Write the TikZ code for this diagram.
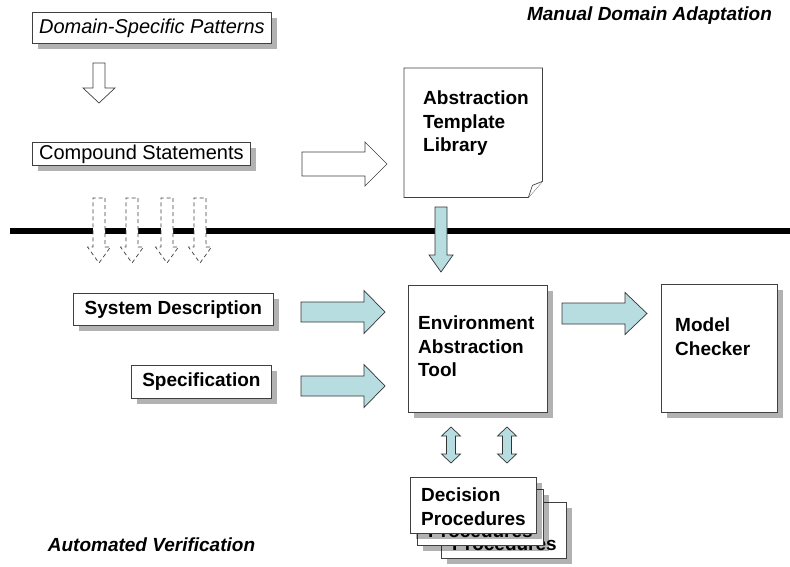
\documentclass[tikz,border=0pt]{standalone}
\usepackage{fontspec}
\setmainfont{Liberation Sans}
\usetikzlibrary{calc,shadows}

\definecolor{arrowblue}{RGB}{183,221,224}

\tikzset{
  box/.style={draw=black!75, line width=0.8pt, fill=white, anchor=north west, inner sep=2pt,
    general shadow={fill=black, fill opacity=0.3, shadow xshift=6pt, shadow yshift=-6pt}},
  plaintxt/.style={font=\fontsize{20}{24}\selectfont},
  boldtxt/.style={font=\fontsize{19}{23.5}\selectfont\bfseries},
  inbox/.style={boldtxt, inner sep=0pt, anchor=north west, align=left},
  hollow/.style={draw=black!75, line width=0.7pt, fill=white},
  hollowdash/.style={hollow, dash pattern=on 4pt off 3pt},
  bluearrow/.style={draw=black!80, line width=0.7pt, fill=arrowblue}
}

% block arrow: style, start, angle, length, shaft half, head half, head length
\newcommand{\blkarrow}[7]{%
  \draw[#1, shift={(#2)}, rotate=#3] (0,-#5) -- ({#4-#7},-#5) -- ({#4-#7},-#6) -- (#4,0)
    -- ({#4-#7},#6) -- ({#4-#7},#5) -- (0,#5) -- cycle;}

% up/down block arrow around a centre point
\newcommand{\dblarrow}[1]{%
  \draw[bluearrow, shift={(#1)}] (0,-18) -- (9.5,-9) -- (4.5,-9) -- (4.5,9) -- (9.5,9) -- (0,18)
    -- (-9.5,9) -- (-4.5,9) -- (-4.5,-9) -- (-9.5,-9) -- cycle;}

\begin{document}
\begin{tikzpicture}[x=1pt, y=-1pt]
  \useasboundingbox (0,0) rectangle (790,567);

  % Captions
  \node[font=\fontsize{19}{23.5}\selectfont\bfseries\itshape] (manual) at (649.5,16) {Manual Domain Adaptation};
  \node[font=\fontsize{19}{23.5}\selectfont\bfseries\itshape] (auto) at (151.5,545) {Automated Verification};

  % Separator
  \draw[line width=5.5pt] (10,231) -- (790,231);

  % Upper part
  \node[box, font=\fontsize{20}{24}\selectfont\itshape, minimum width=239pt, minimum height=31pt] (dsp) at (32,12) {Domain-Specific Patterns};
  \node[box, plaintxt, minimum width=218pt, minimum height=23pt] (cmp) at (32,142) {Compound Statements};

  \node[minimum width=138pt, minimum height=129pt, anchor=north west, inner sep=0pt] (atl) at (404,68) {};
  \draw[hollow] (atl.north west) -- (atl.north east) -- ($(atl.south east)+(0,-16)$)
    -- ($(atl.south east)+(-14,0)$) -- (atl.south west) -- cycle;
  \draw[hollow] ($(atl.south east)+(-14,0)$) -- ($(atl.south east)+(-10,-12)$) -- ($(atl.south east)+(0,-16)$);
  \node[inbox] (atltxt) at ($(atl.north west)+(19,23)$) {Abstraction\\Template\\Library};

  \coordinate (dsparr) at (99,63);
  \coordinate (cmparr) at (302,164);
  \blkarrow{hollow}{dsparr}{-90}{40}{6}{16}{15}
  \blkarrow{hollow}{cmparr}{0}{85}{12}{22}{22}

  % Dashed arrows over the separator
  \foreach \x in {99,132,167,200} {
    \blkarrow{hollowdash}{\x,198}{-90}{65}{6}{11.5}{16}
  }

  \coordinate (atlarr) at (441,207);
  \blkarrow{bluearrow}{atlarr}{-90}{65}{6}{12}{17}

  % Lower part
  \node[box, boldtxt, minimum width=200pt, minimum height=32pt] (sys) at (73,293) {System Description};
  \node[box, boldtxt, minimum width=140pt, minimum height=33pt] (spec) at (131,365) {Specification};

  \node[box, minimum width=139pt, minimum height=127pt] (env) at (408,285) {};
  \node[inbox] (envtxt) at ($(env.north west)+(10,31)$) {Environment\\Abstraction\\Tool};

  \node[box, minimum width=116pt, minimum height=128pt] (mc) at (661,284) {};
  \node[inbox] (mctxt) at ($(mc.north west)+(14,34)$) {Model\\Checker};

  \coordinate (sysarr) at (301,312);
  \coordinate (specarr) at (301,386);
  \coordinate (envarr) at (562,313.5);
  \blkarrow{bluearrow}{sysarr}{0}{84}{10}{21.5}{21}
  \blkarrow{bluearrow}{specarr}{0}{84}{10}{21.5}{21}
  \blkarrow{bluearrow}{envarr}{0}{85}{10.5}{21}{22}

  \dblarrow{451,445}
  \dblarrow{507,445}

  % Stack of decision procedures
  \node[box, minimum width=125pt, minimum height=56pt] (dp3) at (441,502) {};
  \node[inbox] (dp3txt) at ($(dp3.north west)+(11,11)$) {Decision\\Procedures};
  \node[box, minimum width=126pt, minimum height=56pt] (dp2) at (417,489) {};
  \node[inbox] (dp2txt) at ($(dp2.north west)+(11,11)$) {Decision\\Procedures};
  \node[box, minimum width=126pt, minimum height=56pt] (dp1) at (410,477) {};
  \node[inbox] (dp1txt) at ($(dp1.north west)+(11,11)$) {Decision\\Procedures};

\end{tikzpicture}
\end{document}
